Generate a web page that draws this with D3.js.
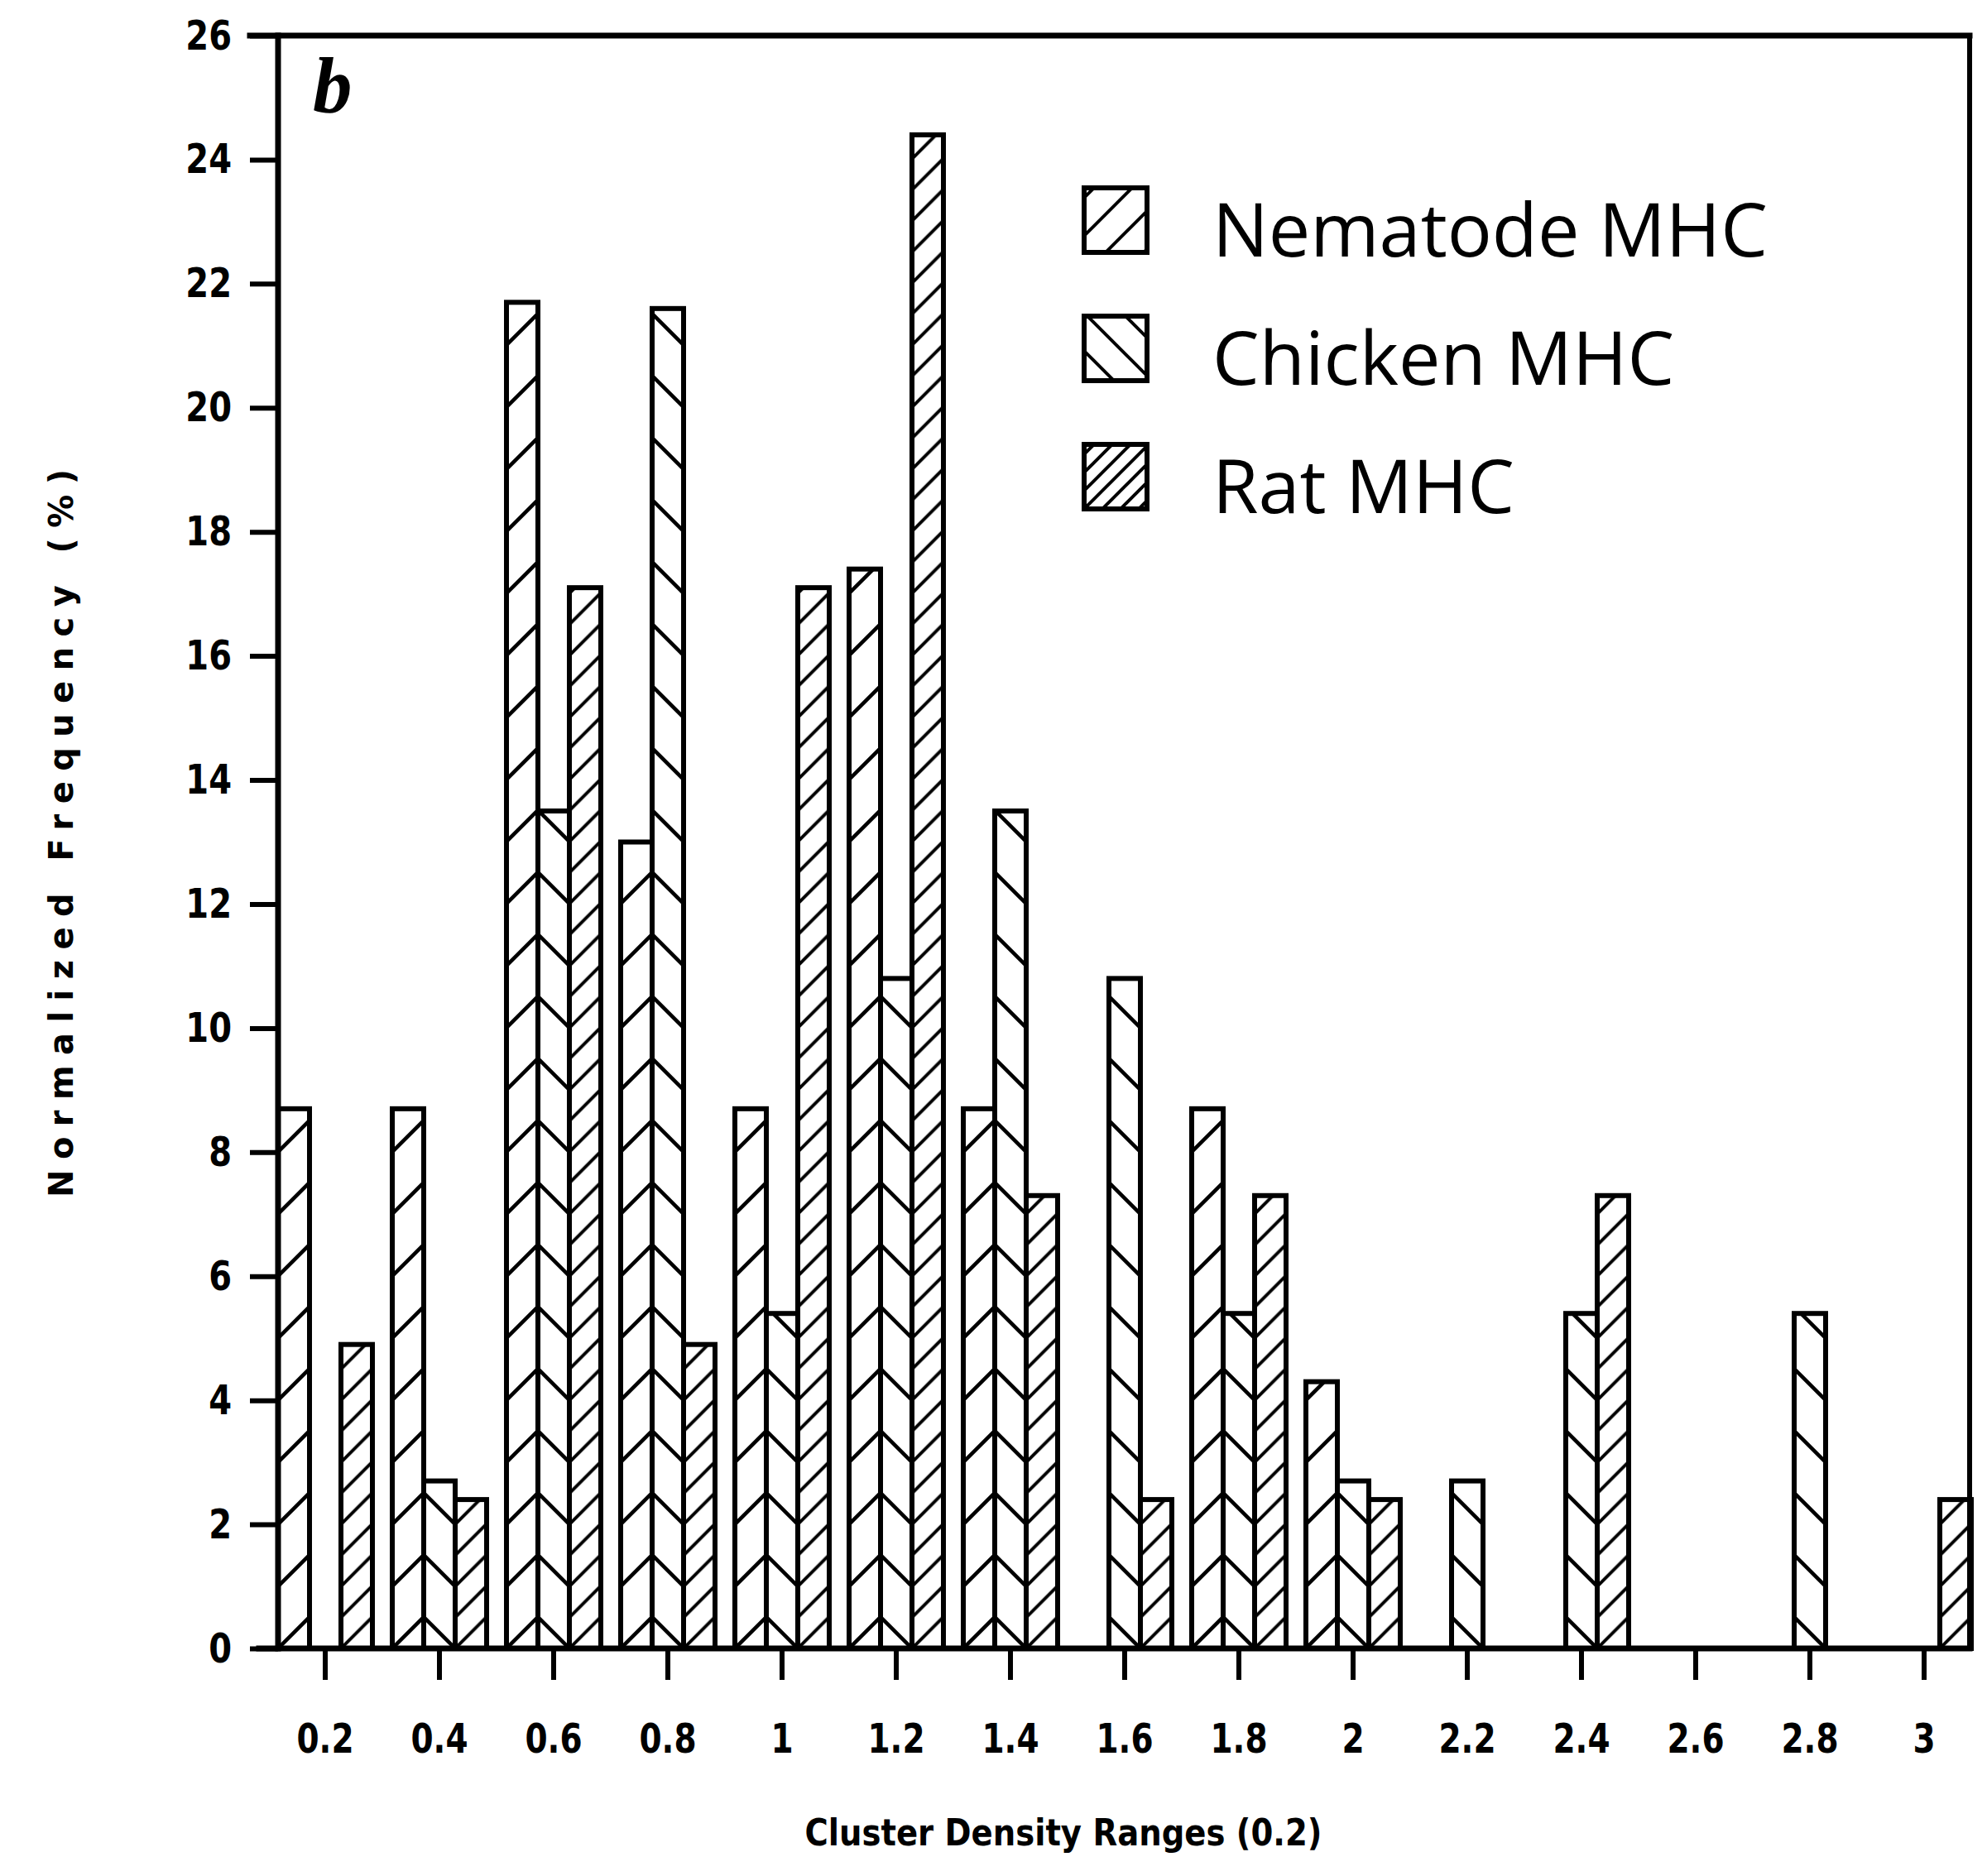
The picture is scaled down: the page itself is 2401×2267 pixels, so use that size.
<!DOCTYPE html>
<html><head><meta charset="utf-8">
<script src="https://cdn.jsdelivr.net/npm/d3@7"></script>
<style>body{margin:0;background:#fff} svg{display:block}</style>
</head><body>
<script>
// ---- data ----
const categories = ["0.2","0.4","0.6","0.8","1","1.2","1.4","1.6","1.8","2","2.2","2.4","2.6","2.8","3"];
const nematode = [8.7,8.7,21.7,13.0,8.7,17.4,8.7,0,8.7,4.3,0,0,0,0,0];
const chicken  = [0,2.7,13.5,21.6,5.4,10.8,13.5,10.8,5.4,2.7,2.7,5.4,0,5.4,0];
const rat      = [4.9,2.4,17.1,4.9,17.1,24.4,7.3,2.4,7.3,2.4,0,7.3,0,0,2.4];
const seriesKeys = ["nematode","chicken","rat"];
const seriesLabels = ["Nematode MHC","Chicken MHC","Rat MHC"];
const yTickValues = [0,2,4,6,8,10,12,14,16,18,20,22,24,26];
const panelLabel = "b";
const xTitle = "Cluster Density Ranges (0.2)";
const yTitle = "Normalized Frequency (%)";

// ---- layout ----
const W = 2401, H = 2267;
const plotL = 336, plotR = 2380, plotT = 43, plotB = 1992;
const tickFont = "'DejaVu Sans',sans-serif";

const svg = d3.select("body").append("svg").attr("width", W).attr("height", H);
svg.append("rect").attr("width", W).attr("height", H).attr("fill", "#fff");

const y = d3.scaleLinear().domain([0, 26]).range([plotB, plotT]);
const x0 = d3.scaleBand().domain(categories).range([324, 2394]).paddingInner(0.174).paddingOuter(0.087);
const x1 = d3.scaleBand().domain(seriesKeys).range([0, x0.bandwidth()]);
const bw = x1.bandwidth();
const valuesBy = { nematode, chicken, rat };

const defs = svg.append("defs");
function hatch(id, px, py, size, dir, sw) {
  const p = defs.append("pattern").attr("id", id).attr("patternUnits", "userSpaceOnUse")
    .attr("x", px).attr("y", py).attr("width", size).attr("height", size);
  p.append("rect").attr("width", size).attr("height", size).attr("fill", "#fff");
  const s = size, e = size * 0.3;
  const d = dir === "/"
    ? `M${-e},${e}L${e},${-e}M0,${s}L${s},0M${s - e},${s + e}L${s + e},${s - e}`
    : `M0,0L${s},${s}M${-e},${s - e}L${e},${s + e}M${s - e},${-e}L${s + e},${e}`;
  p.append("path").attr("d", d).attr("stroke", "#000").attr("stroke-width", sw).attr("fill", "none");
}
const P = 75;
categories.forEach((c, i) => {
  const g = x0(c);
  hatch(`pn${i}`, g, plotB, P, "/", 4.5);
  hatch(`pc${i}`, g, plotB - 2 * bw, P, "\\", 4.5);
  hatch(`pr${i}`, g, plotB + 2 * bw, P / 2, "/", 4);
});

// ---- bars ----
const barData = [];
categories.forEach((c, i) => seriesKeys.forEach(k => {
  const v = valuesBy[k][i];
  if (v > 0) barData.push({ c, i, k, v });
}));
svg.append("g").selectAll("rect").data(barData).join("rect")
  .attr("x", d => x0(d.c) + x1(d.k))
  .attr("y", d => y(d.v))
  .attr("width", bw)
  .attr("height", d => plotB - y(d.v))
  .attr("fill", d => `url(#p${d.k[0]}${d.i})`)
  .attr("stroke", "#000").attr("stroke-width", 6);

// ---- axes ----
const ySx = 0.8, xSx = 0.78;
const gy = svg.append("g").attr("transform", `translate(${plotL},0)`)
  .call(d3.axisLeft(y).tickValues(yTickValues).tickSize(34).tickPadding(22).tickFormat(d3.format("d")));
gy.select(".domain").remove();
gy.selectAll(".tick line").attr("stroke", "#000").attr("stroke-width", 6);
gy.selectAll(".tick text").attr("font-family", tickFont).attr("font-size", 50)
  .attr("font-weight", "bold").attr("fill", "#000")
  .attr("x", -56 / ySx).attr("transform", `scale(${ySx},1)`);

const gx = svg.append("g").attr("transform", `translate(0,${plotB})`)
  .call(d3.axisBottom(x0).tickSize(38).tickPadding(53));
gx.select(".domain").remove();
gx.selectAll(".tick line").attr("stroke", "#000").attr("stroke-width", 6);
gx.selectAll(".tick text").attr("font-family", tickFont).attr("font-size", 50)
  .attr("font-weight", "bold").attr("fill", "#000").attr("transform", `scale(${xSx},1)`);

// frame lines
const frame = svg.append("g").attr("stroke", "#000").attr("stroke-linecap", "square");
frame.append("line").attr("x1", 302).attr("x2", plotR).attr("y1", plotT).attr("y2", plotT).attr("stroke-width", 7);
frame.append("line").attr("x1", plotL).attr("x2", plotL).attr("y1", plotT).attr("y2", plotB).attr("stroke-width", 7);
frame.append("line").attr("x1", plotR).attr("x2", plotR).attr("y1", plotT).attr("y2", plotB).attr("stroke-width", 6);
frame.append("line").attr("x1", 313).attr("x2", plotR).attr("y1", plotB).attr("y2", plotB).attr("stroke-width", 7);

// ---- panel label ----
svg.append("text").attr("x", 378).attr("y", 135).text(panelLabel)
  .attr("font-family", "'Liberation Serif',serif").attr("font-style", "italic").attr("font-weight", "bold")
  .attr("font-size", 95).attr("fill", "#000");

// ---- legend ----
const legX = 1310, legTop = 227, legStep = 155, boxW = 76, boxH = 78;
const legPat = { nematode: [46, "/"], chicken: [46, "\\"], rat: [22, "/"] };
seriesKeys.forEach(k => hatch(`lg${k}`, legX + 8, 4, legPat[k][0], legPat[k][1], 4));
const leg = svg.append("g").selectAll("g").data(seriesKeys).join("g")
  .attr("transform", (d, j) => `translate(0,${legTop + j * legStep})`);
leg.append("rect").attr("x", legX).attr("y", 0).attr("width", boxW).attr("height", boxH)
  .attr("fill", d => `url(#lg${d})`).attr("stroke", "#000").attr("stroke-width", 6);
leg.append("text").attr("x", 1465).attr("y", 83).text((d, j) => seriesLabels[j])
  .attr("font-family", "'Open Sans',sans-serif").attr("font-size", 90).attr("fill", "#000");

// ---- axis titles ----
svg.append("text").attr("x", 1285).attr("y", 2230).attr("text-anchor", "middle").text(xTitle)
  .attr("font-family", tickFont).attr("font-size", 44).attr("font-weight", "bold")
  .attr("textLength", 625).attr("lengthAdjust", "spacingAndGlyphs").attr("fill", "#000");
svg.append("text").attr("transform", "translate(88,1007) rotate(-90)").attr("text-anchor", "middle")
  .text(yTitle).attr("font-family", "'DejaVu Sans',sans-serif").attr("font-size", 40)
  .attr("font-weight", "bold").attr("textLength", 880).attr("lengthAdjust", "spacing").attr("fill", "#000");
</script>
</body></html>
